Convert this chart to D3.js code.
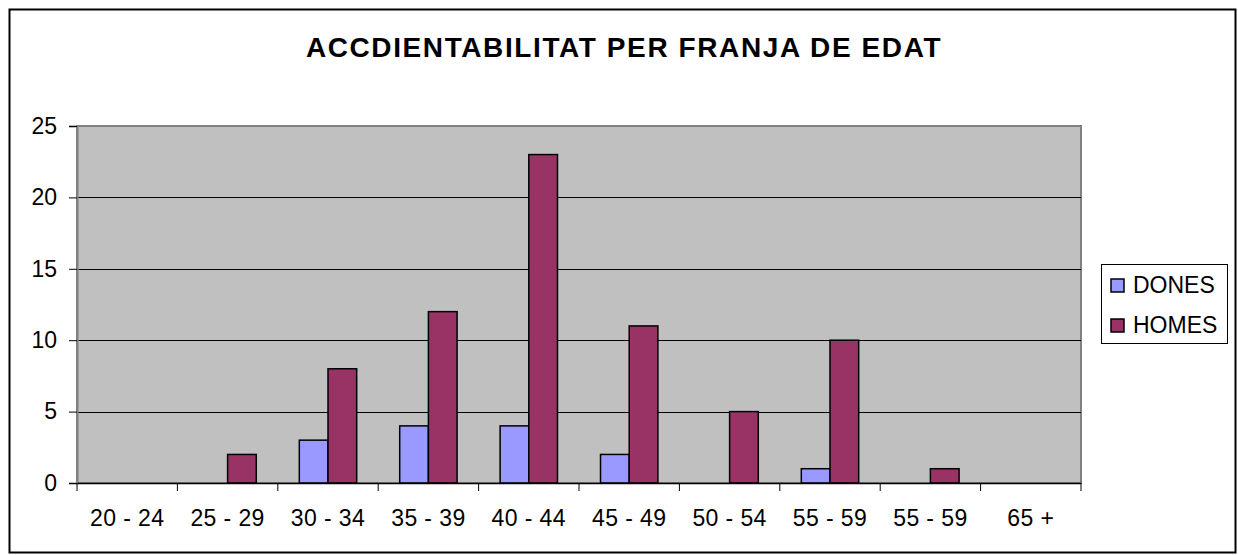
<!DOCTYPE html>
<html>
<head>
<meta charset="utf-8">
<script src="https://cdn.jsdelivr.net/npm/d3@7"></script>
<style>
  html, body { margin: 0; padding: 0; background: #fff; }
  svg { display: block; font-family: "Liberation Sans", Arial, sans-serif; }
</style>
</head>
<body>
<svg id="chart" width="1238" height="555"></svg>
<script>
// Age bands and accident counts per band
const categories = ["20 - 24", "25 - 29", "30 - 34", "35 - 39", "40 - 44", "45 - 49", "50 - 54", "55 - 59", "55 - 59", "65 +"];
const dones = [0, 0, 3, 4, 4, 2, 0, 1, 0, 0];
const homes = [0, 2, 8, 12, 23, 11, 5, 10, 1, 0];
const seriesNames = ["DONES", "HOMES"];
const seriesColors = ["#9999FF", "#993366"];
const yTicks = [0, 5, 10, 15, 20, 25];
const title = "ACCDIENTABILITAT PER FRANJA DE EDAT";

const svg = d3.select("#chart");
const plot = { left: 77, top: 126, right: 1081, bottom: 483 };
const FONT = "Liberation Sans, Arial, sans-serif";

// Outer chart frame
svg.append("rect")
  .attr("x", 9.5).attr("y", 9.5)
  .attr("width", 1226).attr("height", 543)
  .attr("fill", "#fff").attr("stroke", "#000").attr("stroke-width", 2);

// Title
svg.append("text")
  .attr("x", 624).attr("y", 57)
  .attr("text-anchor", "middle")
  .attr("font-size", 28).attr("font-weight", "bold")
  .attr("letter-spacing", 1.6)
  .text(title);

const x = d3.scaleBand().domain(d3.range(categories.length))
  .range([plot.left, plot.right]);
const y = d3.scaleLinear().domain([0, 25]).range([plot.bottom, plot.top]);
// two bars per band, gap of 1.5 bar widths split on both sides
const inner = d3.scaleBand().domain(seriesNames)
  .range([0, x.bandwidth()]).paddingOuter(0.75).paddingInner(0);

// Plot area background
svg.append("rect")
  .attr("x", plot.left).attr("y", plot.top)
  .attr("width", plot.right - plot.left).attr("height", plot.bottom - plot.top)
  .attr("fill", "#C0C0C0").attr("stroke", "#808080").attr("stroke-width", 2);

// Horizontal gridlines
svg.append("g").selectAll("line")
  .data(yTicks.filter(t => t > 0 && t < 25))
  .join("line")
  .attr("x1", plot.left).attr("x2", plot.right)
  .attr("y1", d => Math.round(y(d)) + 0.5).attr("y2", d => Math.round(y(d)) + 0.5)
  .attr("stroke", "#000").attr("stroke-width", 1);

// Bars
const series = [dones, homes];
seriesNames.forEach((name, si) => {
  const vals = series[si];
  svg.append("g")
    .selectAll("rect")
    .data(vals.map((v, i) => ({ v, i })).filter(d => d.v > 0))
    .join("rect")
    .attr("x", d => x(d.i) + inner(name))
    .attr("y", d => y(d.v))
    .attr("width", inner.bandwidth())
    .attr("height", d => y(0) - y(d.v))
    .attr("fill", seriesColors[si])
    .attr("stroke", "#000").attr("stroke-width", 1.5);
});

// Y axis
const yAxis = d3.axisLeft(y).tickValues(yTicks).tickSize(8).tickPadding(12);
const gy = svg.append("g").attr("transform", `translate(${plot.left},0)`).call(yAxis);
gy.select(".domain").attr("stroke", "#808080").attr("stroke-width", 2);
gy.selectAll(".tick line").attr("stroke", "#000");
gy.selectAll(".tick text").attr("font-size", 23).attr("fill", "#000")
  .attr("font-family", FONT);

// X axis
const xAxis = d3.axisBottom(x).tickFormat(i => categories[i]).tickSize(0).tickPadding(27);
const gx = svg.append("g").attr("transform", `translate(0,${plot.bottom})`).call(xAxis);
gx.select(".domain").attr("stroke", "#000").attr("stroke-width", 1.5);
gx.selectAll(".tick text").attr("font-size", 23).attr("fill", "#000")
  .attr("letter-spacing", 0.4)
  .attr("font-family", FONT);
// Band separators
gx.append("g").selectAll("line")
  .data(d3.range(categories.length + 1))
  .join("line")
  .attr("x1", i => i < categories.length ? x(i) : plot.right)
  .attr("x2", i => i < categories.length ? x(i) : plot.right)
  .attr("y1", 0).attr("y2", 8)
  .attr("stroke", "#000");

// Legend
const legend = svg.append("g");
legend.append("rect")
  .attr("x", 1101.5).attr("y", 264.5).attr("width", 126).attr("height", 79)
  .attr("fill", "#fff").attr("stroke", "#000").attr("stroke-width", 1);
seriesNames.forEach((name, si) => {
  const base = 293 + si * 40;
  legend.append("rect")
    .attr("x", 1111).attr("y", base - 14).attr("width", 13).attr("height", 13)
    .attr("fill", seriesColors[si]).attr("stroke", "#000").attr("stroke-width", 1.5);
  legend.append("text")
    .attr("x", 1133).attr("y", base)
    .attr("font-size", 23)
    .text(name);
});
</script>
</body>
</html>
